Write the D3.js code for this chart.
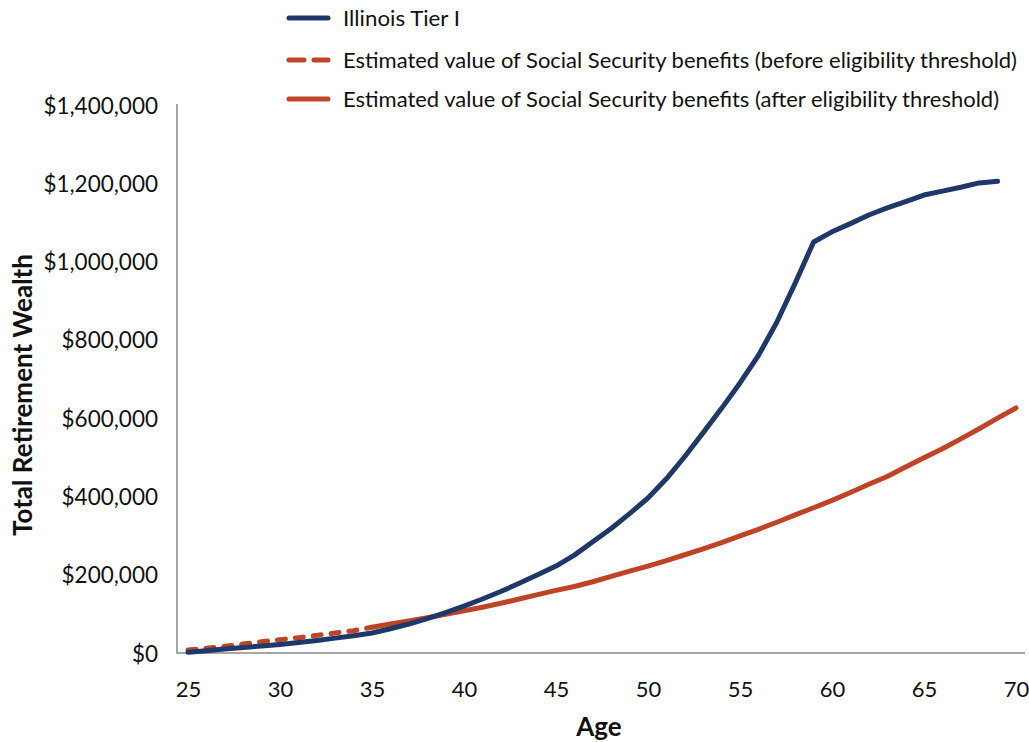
<!DOCTYPE html>
<html>
<head>
<meta charset="utf-8">
<script src="https://cdn.jsdelivr.net/npm/d3@7"></script>
<style>
  html, body { margin: 0; padding: 0; background: #fff; }
  svg { display: block; font-family: Lato, "Open Sans", sans-serif; }
</style>
</head>
<body>
<svg id="chart" width="1029" height="742"></svg>
<script>
// Ages on the horizontal axis
const ages = d3.range(25, 71);

// Illinois Tier I total retirement wealth, ages 25–69
const tierOne = [
  2000, 6000, 10000, 14000, 18000, 22000, 27000, 32000, 38000, 44000,
  51000, 62000, 74000, 88000, 103000, 120000, 138000, 157000, 178000, 200000,
  222000, 250000, 284000, 318000, 356000, 396000, 445000, 502000, 563000, 625000,
  690000, 760000, 845000, 945000, 1050000, 1076000, 1097000, 1119000, 1137000, 1153000,
  1170000, 1180000, 1190000, 1201000, 1205000
];

// Estimated value of Social Security benefits, ages 25–70
const socialSecurity = [
  8000, 12000, 17000, 23000, 29000, 34000, 39000, 45000, 51000, 57000,
  66000, 74000, 82000, 90000, 99000, 108000, 117000, 127000, 138000, 149000,
  160000, 170000, 182000, 196000, 209000, 222000, 236000, 251000, 266000, 282000,
  299000, 316000, 334000, 353000, 371000, 390000, 410000, 431000, 451000, 475000,
  499000, 522000, 547000, 573000, 600000, 626000
];

// Age at which Social Security eligibility is reached
const eligibilityAge = 35;

const xTicks = [25, 30, 35, 40, 45, 50, 55, 60, 65, 70];
const yTicks = [0, 200000, 400000, 600000, 800000, 1000000, 1200000, 1400000];

const legendLabels = [
  "Illinois Tier I",
  "Estimated value of Social Security benefits (before eligibility threshold)",
  "Estimated value of Social Security benefits (after eligibility threshold)"
];

const navy = "#1d3869";
const rust = "#be4428";
const axisGrey = "#a6a6a6";

const svg = d3.select("#chart");

const x = d3.scaleLinear().domain([25, 70]).range([188, 1016]);
const y = d3.scaleLinear().domain([0, 1400000]).range([653, 105]);

const money = v => "$" + d3.format(",")(v);

// Axes
const yAxis = svg.append("g")
  .attr("transform", `translate(177,0)`)
  .call(d3.axisLeft(y).tickValues(yTicks).tickFormat(money).tickSize(0).tickPadding(19));
yAxis.select(".domain").attr("stroke", axisGrey).attr("stroke-width", 2)
  .attr("d", `M0,${y(1400000) - 1}V${y(0)}`);
yAxis.selectAll("text").attr("font-size", 22.5).attr("fill", "#111")
  .attr("font-family", "Lato").attr("dy", "0.36em");

const xAxis = svg.append("g")
  .attr("transform", `translate(0,${y(0)})`)
  .call(d3.axisBottom(x).tickValues(xTicks).tickFormat(d3.format("d")).tickSize(0).tickPadding(28));
xAxis.select(".domain").attr("stroke", axisGrey).attr("stroke-width", 2)
  .attr("d", `M176,0H1025`);
xAxis.selectAll("text").attr("font-size", 22).attr("fill", "#111").attr("font-family", "Lato");

// Axis titles
svg.append("text")
  .attr("x", 599).attr("y", 736)
  .attr("text-anchor", "middle")
  .attr("font-size", 26).attr("font-weight", "bold").attr("fill", "#111")
  .text("Age");

svg.append("text")
  .attr("transform", `translate(32,395) rotate(-90)`)
  .attr("text-anchor", "middle")
  .attr("font-size", 26).attr("font-weight", "bold").attr("fill", "#111")
  .text("Total Retirement Wealth");

// Lines
const line = d3.line().x(d => x(d[0])).y(d => y(d[1]));

const tierPts = tierOne.map((v, i) => [ages[i], v]);
const ssPts = socialSecurity.map((v, i) => [ages[i], v]);
const ssBefore = ssPts.filter(d => d[0] <= eligibilityAge);
const ssAfter = ssPts.filter(d => d[0] >= eligibilityAge);

svg.append("path").datum(ssBefore)
  .attr("d", line).attr("fill", "none")
  .attr("stroke", rust).attr("stroke-width", 5)
  .attr("stroke-linecap", "round").attr("stroke-dasharray", "8,10");

svg.append("path").datum(ssAfter)
  .attr("d", line).attr("fill", "none")
  .attr("stroke", rust).attr("stroke-width", 5)
  .attr("stroke-linecap", "round").attr("stroke-linejoin", "round");

svg.append("path").datum(tierPts)
  .attr("d", line).attr("fill", "none")
  .attr("stroke", navy).attr("stroke-width", 5)
  .attr("stroke-linecap", "round").attr("stroke-linejoin", "round");

// Legend
const legendStyles = [
  { color: navy, dash: null, width: 117 },
  { color: rust, dash: "15,10", width: 674 },
  { color: rust, dash: null, width: 656 }
];
const legendY = [18, 60, 99];
const legend = svg.append("g");
legendLabels.forEach((label, i) => {
  const g = legend.append("g").attr("transform", `translate(0,${legendY[i]})`);
  g.append("line")
    .attr("x1", 289).attr("x2", 328).attr("y1", 0).attr("y2", 0)
    .attr("stroke", legendStyles[i].color).attr("stroke-width", 5)
    .attr("stroke-linecap", "round")
    .attr("stroke-dasharray", legendStyles[i].dash);
  g.append("text")
    .attr("x", 343).attr("y", 8)
    .attr("font-size", 22).attr("fill", "#111")
    .attr("textLength", legendStyles[i].width)
    .attr("lengthAdjust", "spacingAndGlyphs")
    .text(label);
});
</script>
</body>
</html>
